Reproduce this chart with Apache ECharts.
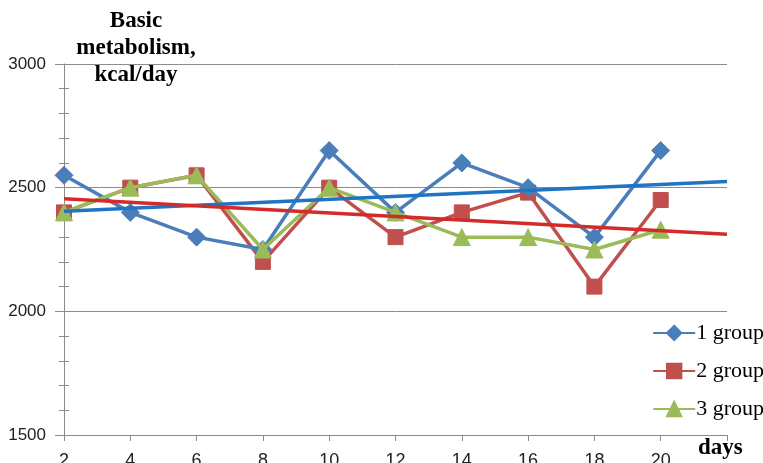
<!DOCTYPE html>
<html lang="en">
<head>
    <meta charset="UTF-8">
    <title>Basic metabolism</title>
    <style>html,body{margin:0;padding:0;background:#fff;}</style>
</head>
<body>
<div id="main" style="width: 763px; height: 463px;"></div>

<script src="https://cdn.jsdelivr.net/npm/echarts@6/dist/echarts.min.js"></script>

<script>
// days on the x axis
var days = [2, 4, 6, 8, 10, 12, 14, 16, 18, 20];
var group1 = [2550, 2400, 2300, 2250, 2650, 2400, 2600, 2500, 2300, 2650];
var group2 = [2400, 2500, 2550, 2200, 2500, 2300, 2400, 2480, 2100, 2450];
var group3 = [2400, 2500, 2550, 2250, 2500, 2400, 2300, 2300, 2250, 2330];
// trend lines (start / end)
var trendDays = [2, 22];
var trend1 = [2405, 2525];
var trend2 = [2455, 2312];

function pairs(xs, ys) {
    return xs.map(function (x, i) { return [x, ys[i]]; });
}

var serif = '"Liberation Serif", "Times New Roman", serif';
var axisGray = '#8c8c8c';

function groupSeries(name, data, symbol, size, color, z) {
    return {
        name: name,
        type: 'line',
        data: data,
        symbol: symbol,
        symbolSize: size,
        z: z,
        itemStyle: {color: color, borderColor: color, borderWidth: 1, opacity: 1},
        lineStyle: {color: color, width: 3.5}
    };
}

var myChart = echarts.init(document.getElementById('main'));

var option = {
    animation: false,
    title: {
        text: 'Basic\nmetabolism,\nkcal/day',
        left: 131,
        top: 3,
        textAlign: 'center',
        textStyle: {
            fontFamily: serif,
            fontWeight: 'bold',
            fontSize: 23,
            lineHeight: 27,
            color: '#000'
        }
    },
    legend: {
        orient: 'vertical',
        right: -6,
        top: 317,
        itemWidth: 42,
        itemHeight: 18,
        itemGap: 16,
        data: ['1 group', '2 group', '3 group'],
        textStyle: {fontFamily: serif, fontSize: 22, color: '#000', padding: [0, 0, 0, -4]}
    },
    grid: {left: 64, right: 36, top: 64, bottom: 28, containLabel: false, outerBoundsMode: 'none'},
    xAxis: {
        type: 'value',
        min: 2,
        max: 22,
        interval: 2,
        name: 'days',
        nameLocation: 'end',
        nameGap: -29,
        nameTextStyle: {fontFamily: serif, fontWeight: 'bold', fontSize: 23, color: '#000',
            verticalAlign: 'top', padding: [2, 0, 0, 0]},
        axisLine: {lineStyle: {color: axisGray, width: 1}},
        axisTick: {length: 6, lineStyle: {color: axisGray}},
        axisLabel: {
            margin: 17,
            fontSize: 18,
            color: '#222',
            formatter: function (v) { return v === 22 ? '' : v; }
        },
        splitLine: {show: false}
    },
    yAxis: [{
        type: 'value',
        min: 1500,
        max: 3000,
        interval: 500,
        axisLine: {show: true, lineStyle: {color: axisGray, width: 1}},
        axisTick: {show: true, length: 9, lineStyle: {color: axisGray}},
        minorTick: {show: true, splitNumber: 5, length: 5, lineStyle: {color: axisGray}},
        axisLabel: {
            margin: 18,
            fontSize: 17,
            color: '#222',
            formatter: function (v) { return String(v); }
        },
        splitLine: {lineStyle: {color: axisGray, width: 1}}
    }, {
        // second copy shifted right so the minor ticks cross the axis line
        type: 'value',
        position: 'left',
        offset: -5,
        min: 1500,
        max: 3000,
        interval: 500,
        axisLine: {show: false},
        axisTick: {show: false},
        minorTick: {show: true, splitNumber: 5, length: 5, lineStyle: {color: axisGray}},
        axisLabel: {show: false},
        splitLine: {show: false}
    }],
    series: [
        groupSeries('1 group', pairs(days, group1), 'diamond', 18, '#4a7ebb', 4),
        groupSeries('2 group', pairs(days, group2), 'rect', 15, '#c0504d', 3),
        groupSeries('3 group', pairs(days, group3), 'triangle', 17, '#9bbb59', 5),
        {
            name: 'trend 1',
            type: 'line',
            data: pairs(trendDays, trend1),
            symbol: 'none',
            z: 6,
            lineStyle: {color: '#1f74c4', width: 3.5}
        },
        {
            name: 'trend 2',
            type: 'line',
            data: pairs(trendDays, trend2),
            symbol: 'none',
            z: 6,
            lineStyle: {color: '#d42a2a', width: 3.5}
        }
    ]
};

myChart.setOption(option);
</script>
</body>
</html>
